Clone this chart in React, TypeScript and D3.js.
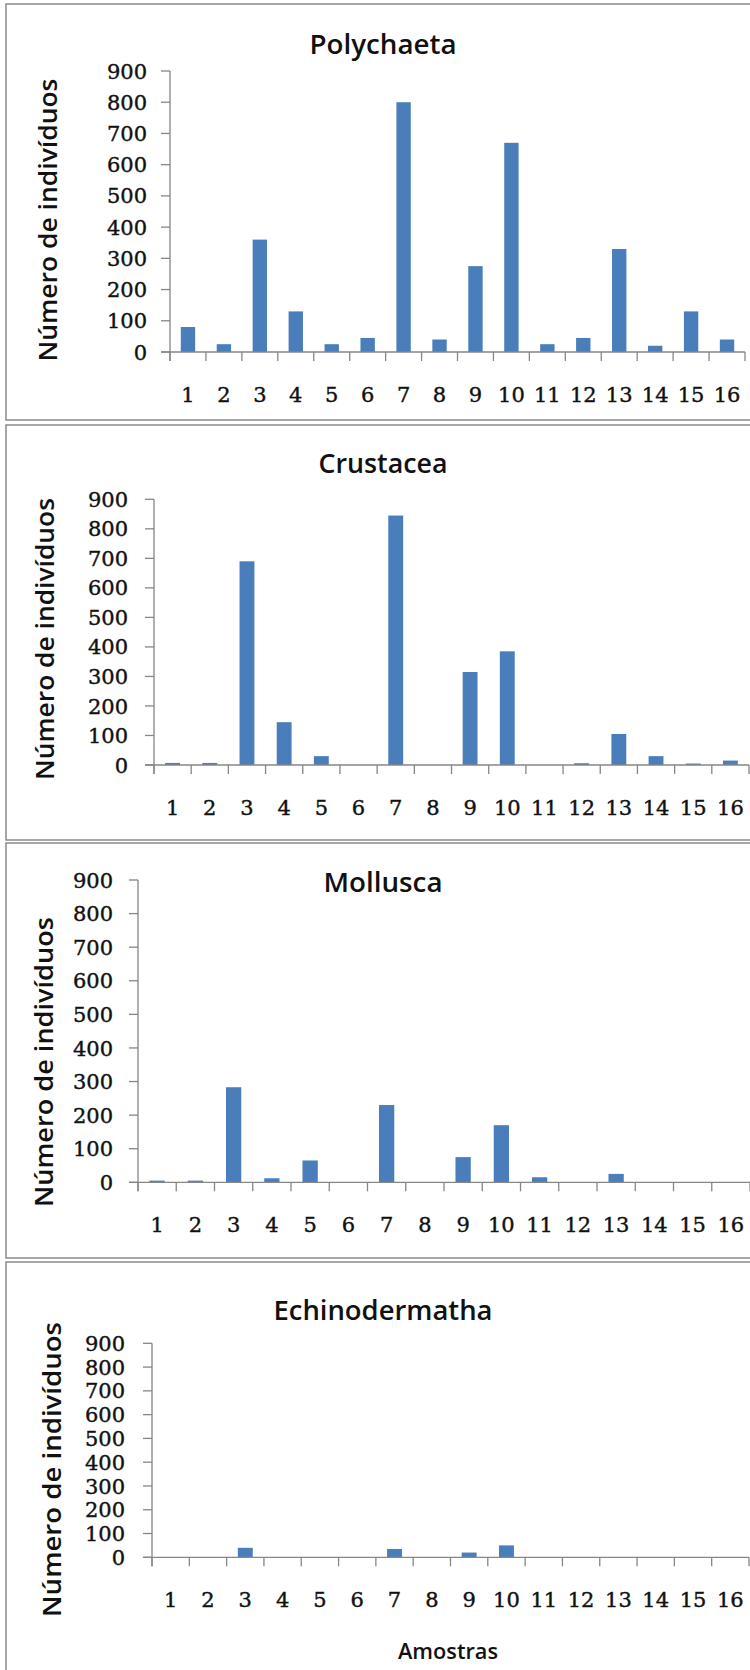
import React from "react";
import * as d3 from "d3";

const samples = ["1","2","3","4","5","6","7","8","9","10","11","12","13","14","15","16"];
const polychaeta = [80, 25, 360, 130, 25, 45, 800, 40, 275, 670, 25, 45, 330, 20, 130, 40];
const crustacea = [7, 7, 690, 145, 30, 0, 845, 0, 315, 385, 0, 6, 105, 30, 5, 15];
const mollusca = [5, 5, 283, 12, 65, 0, 230, 0, 75, 170, 15, 0, 25, 0, 0, 0];
const echinodermatha = [0, 0, 40, 0, 0, 0, 35, 0, 20, 50, 0, 0, 0, 0, 0, 0];
const yTicks = [0, 100, 200, 300, 400, 500, 600, 700, 800, 900];
const titles = ["Polychaeta", "Crustacea", "Mollusca", "Echinodermatha"];
const yLabel = "Número de indivíduos";
const xLabel = "Amostras";
const series = [polychaeta, crustacea, mollusca, echinodermatha];

// layout (positions only)
const layouts = [
  { top: 4, bottom: 420, x0: 170, x1: 745, yTop: 71, yBot: 352, tBase: 54, tLen: 147, lx: 57, lc: 220, lLen: 283, tickEnd: 147 },
  { top: 425, bottom: 840, x0: 154, x1: 749, yTop: 499.3, yBot: 765, tBase: 473, tLen: 129, lx: 54, lc: 639, lLen: 282, tickEnd: 128 },
  { top: 843, bottom: 1258, x0: 138, x1: 750, yTop: 880, yBot: 1182.3, tBase: 892, tLen: 119, lx: 53, lc: 1062, lLen: 290, tickEnd: 113 },
  { top: 1262, bottom: 1680, x0: 152, x1: 749, yTop: 1343.3, yBot: 1557.3, tBase: 1320, tLen: 219, lx: 61, lc: 1469.5, lLen: 295, tickEnd: 125 },
];

const BAR = "#4A7EBB";
const AXIS = "#868686";
const SANS = "'Open Sans', 'Noto Sans', sans-serif";
const SERIF = "'DejaVu Serif', serif";
const TICK = 9;

function Panel({ idx }: { idx: number }) {
  const L = layouts[idx];
  const values = series[idx];
  const slot = d3.scaleBand<string>().domain(samples).range([L.x0, L.x1]).padding(0);
  const bar = d3.scaleBand<string>().domain(samples).range([L.x0, L.x1]).paddingInner(0.6).paddingOuter(0.3);
  const y = d3.scaleLinear().domain([0, 900]).range([L.yBot, L.yTop]);
  const titleCx = 383;
  const boundaries = samples.map((s) => slot(s)!).concat([L.x1]);
  return (
    <g>
      <rect x={6} y={L.top} width={760} height={L.bottom - L.top} fill="white" stroke="#8a8a8a" strokeWidth={1.5} />
      <text x={titleCx} y={L.tBase} textAnchor="middle" fontFamily={SANS} fontWeight={600} fontSize={27}
        textLength={L.tLen} lengthAdjust="spacingAndGlyphs" fill="#111">{titles[idx]}</text>
      <text transform={`translate(${L.lx},${L.lc}) rotate(-90)`} textAnchor="middle" fontFamily={SANS} fontWeight={600}
        fontSize={26} textLength={L.lLen} lengthAdjust="spacingAndGlyphs" fill="#111">{yLabel}</text>
      {values.map((v, i) => (
        v > 0 ? <rect key={i} x={bar(samples[i])!} width={bar.bandwidth()} y={y(v)} height={y(0) - y(v)} fill={BAR} /> : null
      ))}
      <line x1={L.x0} x2={L.x0} y1={y(900)} y2={y(0) + TICK} stroke={AXIS} strokeWidth={1.3} />
      <line x1={L.x0 - TICK} x2={L.x1} y1={y(0)} y2={y(0)} stroke={AXIS} strokeWidth={1.3} />
      {yTicks.map((t) => (
        <g key={t}>
          <line x1={L.x0 - TICK} x2={L.x0} y1={y(t)} y2={y(t)} stroke={AXIS} strokeWidth={1.3} />
          <text x={L.tickEnd} y={y(t)} dy="0.36em" textAnchor="end" fontFamily={SERIF} fontSize={21}
            stroke="#111" strokeWidth={0.4} fill="#111">{t}</text>
        </g>
      ))}
      {boundaries.map((bx, i) => (
        <line key={i} x1={bx} x2={bx} y1={y(0)} y2={y(0) + TICK} stroke={AXIS} strokeWidth={1.3} />
      ))}
      {samples.map((s) => (
        <text key={s} x={slot(s)! + slot.bandwidth() / 2} y={y(0) + 50} textAnchor="middle" fontFamily={SERIF} fontSize={21}
          stroke="#111" strokeWidth={0.4} fill="#111">{s}</text>
      ))}
      {idx === 3 ? (
        <text x={448} y={1659} textAnchor="middle" fontFamily={SANS} fontWeight={600} fontSize={22}
          textLength={100} lengthAdjust="spacingAndGlyphs" fill="#111">{xLabel}</text>
      ) : null}
    </g>
  );
}

export default function App() {
  return (
    <svg width={750} height={1670} style={{ position: "absolute", left: 0, top: 0, background: "white" }}>
      <rect x={0} y={0} width={750} height={1670} fill="white" />
      {titles.map((_, i) => <Panel key={i} idx={i} />)}
    </svg>
  );
}
